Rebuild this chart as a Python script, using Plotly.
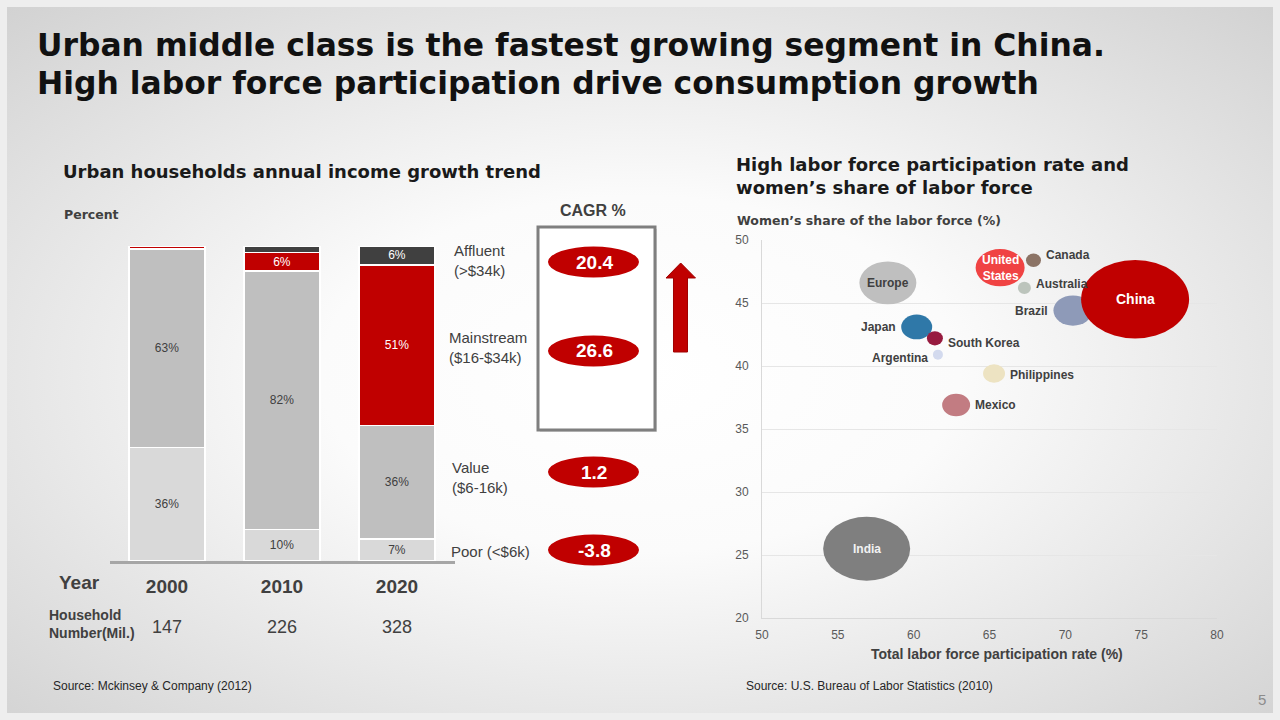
import base64
import plotly.graph_objects as go

# ---------------- data: left chart ----------------
years = ["2000", "2010", "2020"]
poor = [36, 10, 7]
value = [63, 82, 36]
mainstream = [1, 6, 51]
affluent = [0, 2, 6]
household_mil = [147, 226, 328]
segments = ["Affluent<br>(>$34k)", "Mainstream<br>($16-$34k)", "Value<br>($6-16k)", "Poor (<$6k)"]
cagr = [20.4, 26.6, 1.2, -3.8]

# ---------------- data: bubble chart ----------------
countries = ["Europe", "India", "Brazil", "China", "United States", "Canada",
             "Australia", "Japan", "South Korea", "Argentina", "Philippines", "Mexico"]
participation = [58.3, 56.9, 70.5, 74.6, 65.7, 67.9, 67.3, 60.2, 61.4, 61.6, 65.3, 62.8]
women_share = [46.6, 25.5, 44.4, 45.3, 47.8, 48.4, 46.2, 43.1, 42.2, 40.9, 39.4, 36.9]
bubble_size = [57, 87, 39, 108, 49, 15, 13, 31, 16, 10, 22, 28]

# ---------------- styles ----------------
bubble_colors = ["#BFBFBF", "#7F7F7F", "#8E9AB8", "#C00000", "#F04343", "#8C7466",
                 "#BCC4BC", "#2F78A8", "#971B3F", "#D3DAEE", "#EDE3C2", "#C27C82"]
label_side = ["center", "center", "left", "center", "center", "right",
              "right", "left", "right", "left", "right", "right"]
label_dy = [0, 0, 0, 0, 0, 5, 4, 0, -5, -3, -1, 0]
label_color = ["#404040", "#F2F2F2", "#404040", "#FFFFFF", "#FFFFFF", "#404040",
               "#404040", "#404040", "#404040", "#404040", "#404040", "#404040"]
label_text = ["Europe", "India", "Brazil", "China", "United<br>States", "Canada",
              "Australia", "Japan", "South Korea", "Argentina", "Philippines", "Mexico"]

# the photographed page shows the figure slightly inset; map reference pixels onto it
OX, OY, FW, FH = 7, 7, 1266, 706
FONT = "Liberation Sans, Arial, sans-serif"
WIDE = "DejaVu Sans, Liberation Sans, sans-serif"
DARK = "#404040"


def px(x):
    return (x - OX) / FW


def py(y):
    return 1 - (y - OY) / FH


# bubble plot geometry (reference pixels)
BX0, BX1, BY0, BY1 = 762, 1217, 240, 618
XR = [50, 80]
YR = [20, 50]
xs = (BX1 - BX0) / (XR[1] - XR[0])
ys = (BY1 - BY0) / (YR[1] - YR[0])

fig = go.Figure()

# ---- stacked bars ----
def seg_text(vals):
    return [f"{v}%" if v >= 5 else "" for v in vals]

bar_series = [
    ("Poor", poor, "#D9D9D9", DARK),
    ("Value", value, "#BFBFBF", DARK),
    ("Mainstream", mainstream, "#C00000", "#FFFFFF"),
    ("Affluent", affluent, "#404040", "#FFFFFF"),
]
for name, vals, col, tcol in bar_series:
    fig.add_trace(go.Bar(
        x=years, y=vals, name=name, text=seg_text(vals),
        textposition="inside", insidetextanchor="middle", textangle=0,
        constraintext="none",
        textfont=dict(family=FONT, size=12, color=tcol),
        marker=dict(color=col, line=dict(color="#FFFFFF", width=1.5)),
        xaxis="x", yaxis="y", showlegend=False, hoverinfo="x+y+name",
    ))

# ---- bubble anchor trace (invisible points) ----
fig.add_trace(go.Scatter(
    x=participation, y=women_share, mode="markers", text=countries,
    marker=dict(size=4, opacity=0), xaxis="x2", yaxis="y2",
    showlegend=False, hoverinfo="text+x+y",
))

shapes = []
annotations = []

# background gradient
svg = ('<svg xmlns="http://www.w3.org/2000/svg" width="1280" height="720">'
       '<defs><radialGradient id="g" cx="50%" cy="52%" r="72%">'
       '<stop offset="0" stop-color="#ffffff"/>'
       '<stop offset="0.35" stop-color="#fbfbfb"/>'
       '<stop offset="1" stop-color="#d2d2d2"/>'
       '</radialGradient></defs>'
       '<rect width="1280" height="720" fill="url(#g)"/></svg>')
bg_src = "data:image/svg+xml;base64," + base64.b64encode(svg.encode()).decode()

# ellipses for bubbles
for i, c in enumerate(countries):
    w = bubble_size[i]
    h = 0.7 * w + 3
    cx, cy = participation[i], women_share[i]
    shapes.append(dict(
        type="circle", xref="x2", yref="y2",
        x0=cx - w / 2 / xs, x1=cx + w / 2 / xs,
        y0=cy - h / 2 / ys, y1=cy + h / 2 / ys,
        fillcolor=bubble_colors[i], line=dict(width=0), layer="above",
    ))
    side = label_side[i]
    if side == "center":
        fs = 14 if c == "China" else 12
        annotations.append(dict(
            x=cx, y=cy, xref="x2", yref="y2", text=f"<b>{label_text[i]}</b>",
            showarrow=False, xanchor="center", yanchor="middle",
            font=dict(family=FONT, size=fs, color=label_color[i]),
        ))
    else:
        sh = (w / 2 + 3) * (1 if side == "right" else -1)
        annotations.append(dict(
            x=cx, y=cy, xref="x2", yref="y2", text=f"<b>{label_text[i]}</b>",
            showarrow=False, xanchor="left" if side == "right" else "right",
            yanchor="middle", xshift=sh, yshift=label_dy[i],
            font=dict(family=FONT, size=12, color=label_color[i]),
        ))

# CAGR box
shapes.append(dict(type="rect", xref="paper", yref="paper",
                   x0=px(540), x1=px(657), y0=py(432), y1=py(229),
                   fillcolor="rgba(0,0,0,0.12)", line=dict(width=0), layer="below"))
shapes.append(dict(type="rect", xref="paper", yref="paper",
                   x0=px(538), x1=px(655), y0=py(430), y1=py(227),
                   fillcolor="#FFFFFF", line=dict(color="#7F7F7F", width=3), layer="below"))

cagr_y = [262, 351, 472, 550]
label_y = [260, 348, 477, 551]
label_x = [452, 447, 450, 449]
for i, v in enumerate(cagr):
    cy = cagr_y[i]
    shapes.append(dict(type="circle", xref="paper", yref="paper",
                       x0=px(548), x1=px(639), y0=py(cy + 15.5), y1=py(cy - 15.5),
                       fillcolor="#C00000", line=dict(width=0), layer="above"))
    annotations.append(dict(x=px(594), y=py(cy), xref="paper", yref="paper",
                            text=f"<b>{v}</b>", showarrow=False,
                            xanchor="center", yanchor="middle",
                            font=dict(family=FONT, size=19, color="#FFFFFF")))
    annotations.append(dict(x=px(label_x[i]), y=py(label_y[i]), xref="paper", yref="paper",
                            text=segments[i], showarrow=False, align="left",
                            xanchor="left", yanchor="middle",
                            font=dict(family=FONT, size=15, color=DARK)))

# up arrow
pts = [(680.7, 263), (695.5, 278), (687.5, 278), (687.5, 352), (673.5, 352),
       (673.5, 278), (666, 278)]
path = "M " + " L ".join(f"{px(a):.5f},{py(b):.5f}" for a, b in pts) + " Z"
shapes.append(dict(type="path", xref="paper", yref="paper", path=path,
                   fillcolor="#C00000", line=dict(color="#A00000", width=1)))

# household numbers (x = category index on the bar axis)
for i, n in enumerate(household_mil):
    annotations.append(dict(x=i, y=py(627), xref="x", yref="paper", text=str(n),
                            showarrow=False, xanchor="center", yanchor="middle",
                            font=dict(family=FONT, size=18, color=DARK)))


def txt(x, y, text, size, color=DARK, bold=True, xanchor="left", align="left", family=FONT):
    annotations.append(dict(
        x=px(x), y=py(y), xref="paper", yref="paper",
        text=f"<b>{text}</b>" if bold else text, showarrow=False,
        xanchor=xanchor, yanchor="middle", align=align,
        font=dict(family=family, size=size, color=color)))


txt(35, 45, "Urban middle class is the fastest growing segment in China.", 31.4, "#111111", family=WIDE)
txt(35, 83, "High labor force participation drive consumption growth", 31.4, "#111111", family=WIDE)
txt(61, 172, "Urban households annual income growth trend", 18, "#1A1A1A", family=WIDE)
txt(62, 214, "Percent", 12.5, family=WIDE)
txt(558, 210, "CAGR %", 16)
txt(57, 582, "Year", 19)
txt(47, 624, "Household<br>Number(Mil.)", 14)
txt(734, 176, "High labor force participation rate and<br>women’s share of labor force", 18, "#1A1A1A", family=WIDE)
txt(735, 220, "Women’s share of the labor force (%)", 12.5, family=WIDE)
txt(997, 654, "Total labor force participation rate (%)", 14, xanchor="center")
txt(51, 686, "Source: Mckinsey & Company (2012)", 12, "#262626", bold=False)
txt(744, 686, "Source: U.S. Bureau of Labor Statistics (2010)", 12, "#262626", bold=False)
txt(1262, 699, "5", 15, "#8C8C8C", bold=False, xanchor="center")

fig.update_layout(
    autosize=True,
    margin=dict(l=0, r=0, t=0, b=0, pad=0),
    paper_bgcolor="#EEEEEE", plot_bgcolor="rgba(0,0,0,0)",
    barmode="stack", bargap=0.34,
    font=dict(family=FONT, color=DARK),
    showlegend=False,
    images=[dict(source=bg_src, xref="paper", yref="paper", x=0, y=1,
                 sizex=1, sizey=1, sizing="stretch", layer="below")],
    xaxis=dict(type="category", domain=[px(109.5), px(454.5)], range=[-0.5, 2.5],
               autorange=False, showline=True,
               linecolor="#A6A6A6", linewidth=3, ticks="", showgrid=False,
               zeroline=False, tickfont=dict(family=FONT, size=19, color=DARK),
               tickprefix="<b>", ticksuffix="</b>", ticklabelstandoff=6,
               fixedrange=True),
    yaxis=dict(domain=[py(561), py(246)], range=[0, 100], autorange=False,
               visible=False, fixedrange=True),
    xaxis2=dict(domain=[px(BX0), px(BX1)], range=XR, autorange=False, anchor="y2", dtick=5,
                showline=True, linecolor="#D9D9D9", linewidth=1, ticks="",
                showgrid=False, zeroline=False, ticklabelstandoff=6,
                tickfont=dict(family=FONT, size=12, color="#595959")),
    yaxis2=dict(domain=[py(BY1), py(BY0)], range=YR, autorange=False, anchor="x2", dtick=5,
                showline=True, linecolor="#D9D9D9", linewidth=1, ticks="",
                showgrid=True, gridcolor="#E6E6E6", zeroline=False,
                ticklabelstandoff=10,
                tickfont=dict(family=FONT, size=12, color="#595959")),
    shapes=shapes, annotations=annotations,
)

post = ("document.documentElement.style.margin='0';"
        "document.body.style.margin='0';document.body.style.overflow='hidden';"
        "document.documentElement.style.background='#E2E2E2';"
        "document.body.style.background='#E2E2E2';")
fig.write_html("out.html", post_script=post,
               default_width="100vw", default_height="100vh",
               config={"displayModeBar": False, "responsive": True})
